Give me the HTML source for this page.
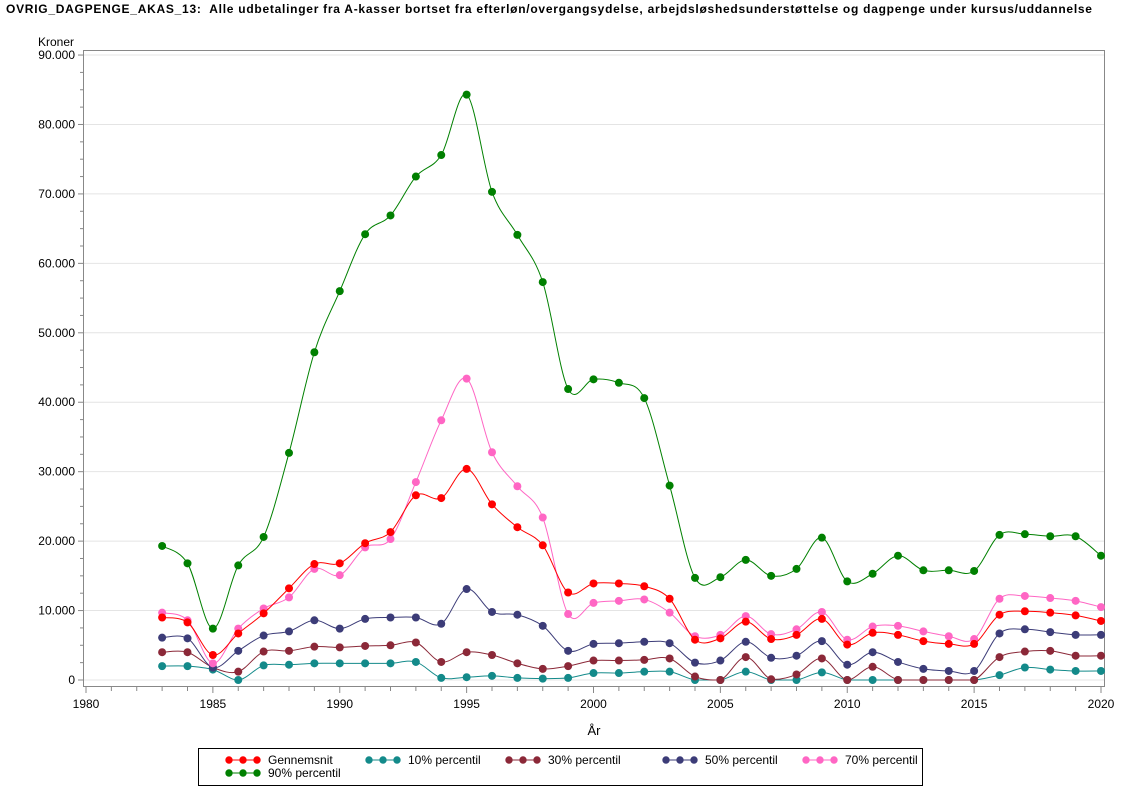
<!DOCTYPE html>
<html><head><meta charset="utf-8"><style>
body{margin:0;background:#fff;font-family:"Liberation Sans",Arial,sans-serif}
svg{display:block}
</style></head><body>
<svg id="s" width="1122" height="793" xmlns="http://www.w3.org/2000/svg" font-family="Liberation Sans, Arial, sans-serif">
<text x="6" y="13" font-size="12" font-weight="bold" textLength="1086" lengthAdjust="spacing" xml:space="preserve">OVRIG_DAGPENGE_AKAS_13:  Alle udbetalinger fra A-kasser bortset fra efterløn/overgangsydelse, arbejdsløshedsunderstøttelse og dagpenge under kursus/uddannelse</text>
<text x="38" y="46" font-size="12">Kroner</text>
<text x="594" y="735" font-size="13" text-anchor="middle">År</text>
<g id="g"></g>
<rect x="198.5" y="748.5" width="724" height="37" fill="none" stroke="#000"/>
</svg>
<script>
var s=document.getElementById('g'),h='';
function X(y){return 86+(y-1980)*25.375}
function Y(v){return 680-v*6.944}
h+='<rect x="83.5" y="50.5" width="1021" height="636" fill="none" stroke="#888"/>';
for(var v=0;v<=90;v+=10){var y=Y(v);h+='<line x1="84" x2="1104" y1="'+y+'" y2="'+y+'" stroke="#e4e4e4"/>';
h+='<line x1="78" x2="83" y1="'+y+'" y2="'+y+'" stroke="#888"/>';
h+='<text x="75" y="'+(y+4)+'" font-size="12" text-anchor="end">'+(v?v+'.000':'0')+'</text>';}
for(var v=0;v<90;v+=2.5){if(v%10==0)continue;var y=Y(v);h+='<line x1="80" x2="83" y1="'+y+'" y2="'+y+'" stroke="#888"/>';}
for(var yr=1980;yr<=2020;yr++){var x=X(yr);var big=yr%5==0;h+='<line x1="'+x+'" x2="'+x+'" y1="687" y2="'+(big?693:691)+'" stroke="#888"/>';
if(big)h+='<text x="'+x+'" y="708" font-size="12" text-anchor="middle">'+yr+'</text>';}
var D=[
['#ff0000',[9.0,8.3,3.6,6.7,9.6,13.2,16.7,16.8,19.7,21.3,26.6,26.2,30.4,25.3,22.0,19.4,12.6,13.9,13.9,13.5,11.7,5.8,6.0,8.4,5.9,6.5,8.8,5.1,6.8,6.5,5.6,5.2,5.2,9.4,9.9,9.7,9.3,8.5]],
['#138a8a',[2.0,2.0,1.5,0,2.1,2.2,2.4,2.4,2.4,2.4,2.6,0.3,0.4,0.6,0.3,0.2,0.3,1.0,1.0,1.2,1.2,0,0,1.2,0,0,1.1,0,0,0,0,0,0,0.7,1.8,1.5,1.3,1.3]],
['#8b2838',[4.0,4.0,1.8,1.2,4.1,4.2,4.8,4.7,4.9,5.0,5.4,2.6,4.0,3.6,2.4,1.6,2.0,2.8,2.8,2.9,3.1,0.5,0,3.3,0.1,0.8,3.1,0,1.9,0,0,0,0,3.3,4.1,4.2,3.5,3.5]],
['#3c3c78',[6.1,6.0,1.8,4.2,6.4,7.0,8.6,7.4,8.8,9.0,9.0,8.1,13.1,9.8,9.4,7.8,4.2,5.2,5.3,5.5,5.3,2.5,2.8,5.5,3.2,3.5,5.6,2.2,4.0,2.6,1.6,1.3,1.3,6.7,7.3,6.9,6.5,6.5]],
['#ff66c4',[9.7,8.6,2.4,7.4,10.3,11.9,16.0,15.1,19.1,20.3,28.5,37.4,43.4,32.8,27.9,23.4,9.5,11.1,11.4,11.6,9.7,6.3,6.5,9.2,6.6,7.3,9.8,5.8,7.7,7.8,7.0,6.3,5.9,11.7,12.1,11.8,11.4,10.5]],
['#008000',[19.3,16.8,7.4,16.5,20.6,32.7,47.2,56.0,64.2,66.9,72.5,75.6,84.3,70.3,64.1,57.3,41.9,43.3,42.8,40.6,28.0,14.7,14.8,17.3,15.0,16.0,20.5,14.2,15.3,17.9,15.8,15.8,15.7,20.9,21.0,20.7,20.7,17.9]]];
var order=[1,2,3,4,0,5];
order.forEach(function(k){var c=D[k][0],a=D[k][1];var p=a.map(function(v,i){return [X(1983+i),Y(v)]});
var d='M'+p[0][0]+','+p[0][1];
for(var i=0;i<p.length-1;i++){var p0=p[i-1]||p[i],p1=p[i],p2=p[i+1],p3=p[i+2]||p2;
var c1x=p1[0]+(p2[0]-p0[0])/6,c1y=p1[1]+(p2[1]-p0[1])/6,c2x=p2[0]-(p3[0]-p1[0])/6,c2y=p2[1]-(p3[1]-p1[1])/6;
c1y=Math.min(c1y,680);c2y=Math.min(c2y,680);
d+=' C'+c1x+','+c1y+' '+c2x+','+c2y+' '+p2[0]+','+p2[1];}
h+='<path d="'+d+'" fill="none" stroke="'+c+'" stroke-width="1"/>';
p.forEach(function(q){h+='<circle cx="'+q[0]+'" cy="'+q[1]+'" r="4" fill="'+c+'"/>'});});
var L=[[0,218,760,'Gennemsnit'],[1,358,760,'10% percentil'],[2,498,760,'30% percentil'],[3,655,760,'50% percentil'],[4,795,760,'70% percentil'],[5,218,773,'90% percentil']];
L.forEach(function(l){var c=D[l[0]][0];h+='<line x1="'+(l[1]+11)+'" x2="'+(l[1]+40)+'" y1="'+l[2]+'" y2="'+l[2]+'" stroke="'+c+'"/>';
[11,25,39].forEach(function(o){h+='<circle cx="'+(l[1]+o)+'" cy="'+l[2]+'" r="3.7" fill="'+c+'"/>'});
h+='<text x="'+(l[1]+50)+'" y="'+(l[2]+4)+'" font-size="12">'+l[3]+'</text>';});
s.innerHTML=h;
</script>
</body></html>
